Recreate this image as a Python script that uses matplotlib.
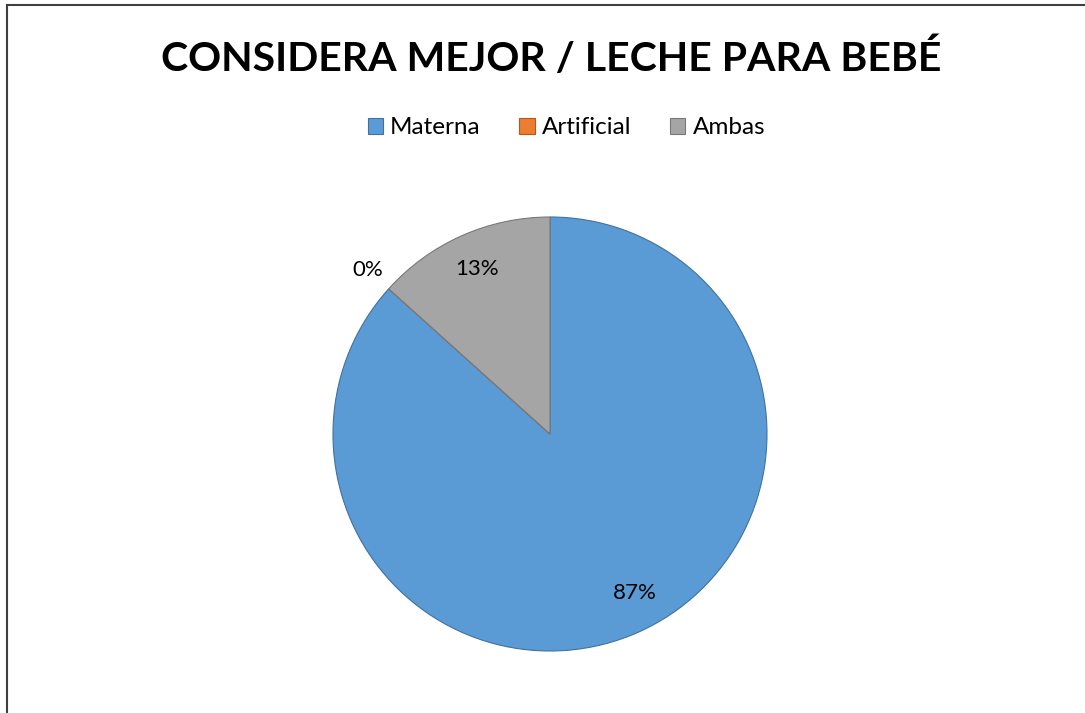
import matplotlib
matplotlib.use("Agg")
import matplotlib.pyplot as plt
from matplotlib.lines import Line2D
import numpy as np

categories = ["Materna", "Artificial", "Ambas"]
values = [26, 0, 4]
colors = ["#5B9BD5", "#ED7D31", "#A5A5A5"]
edges = ["#41719C", "#AE5A21", "#787878"]
title = "CONSIDERA MEJOR / LECHE PARA BEBÉ"

plt.rcParams['font.family'] = ['Lato', 'DejaVu Sans']

fig = plt.figure(figsize=(10.85, 7.13), dpi=100)
ax = fig.add_axes([0.3069, 0.08696, 0.4, 0.6087])

wedges, texts, autotexts = ax.pie(
    values, colors=colors, startangle=90, counterclock=False,
    autopct=lambda p: f"{p:.0f}%", pctdistance=0.83,
    wedgeprops=dict(linewidth=0.8),
    textprops=dict(fontsize=16, color="black"))
for w, ec in zip(wedges, edges):
    w.set_edgecolor(ec)

# zero-value label placed outside, as in the reference
for w, t, v in zip(wedges, autotexts, values):
    if v == 0:
        ang = np.deg2rad((w.theta1 + w.theta2) / 2)
        t.set_position((1.13 * np.cos(ang), 1.13 * np.sin(ang)))
    elif v == max(values):
        ang = np.deg2rad((w.theta1 + w.theta2) / 2 + 4)
        t.set_position((0.83 * np.cos(ang), 0.83 * np.sin(ang)))

ax.set_xlim(-1, 1)
ax.set_ylim(-1, 1)
ax.set_aspect('equal')

fig.text(0.508, 1 - 58 / 713, title, ha='center', va='center',
         fontsize=29.5, fontweight='bold', color='black')

handles = [plt.Rectangle((0, 0), 1, 1, facecolor=c, edgecolor=e, linewidth=0.8)
           for c, e in zip(colors, edges)]
fig.legend(handles, categories, loc='center', bbox_to_anchor=(0.522, 1 - 128 / 713),
           ncol=3, frameon=False, fontsize=17.5, handlelength=0.62, handleheight=0.62,
           handletextpad=0.3, columnspacing=1.6)

fig.add_artist(Line2D([7 / 1085, 7 / 1085], [0, 1 - 5 / 713], transform=fig.transFigure,
                      color='#404040', linewidth=1.5))
fig.add_artist(Line2D([7 / 1085, 1], [1 - 5 / 713, 1 - 5 / 713], transform=fig.transFigure,
                      color='#404040', linewidth=1.5))

fig.savefig("out.png", dpi=100)
